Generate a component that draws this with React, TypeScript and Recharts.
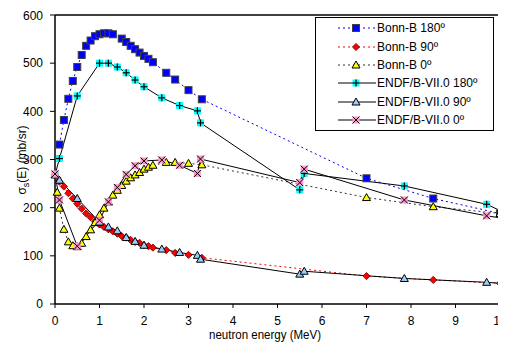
import { LineChart, Line, XAxis, YAxis, Legend, ReferenceLine, Label } from 'recharts';

const FONT = '"Liberation Sans Narrow", "Arial Narrow", "Liberation Sans", Arial, sans-serif';

// Bonn-B model
const bonn180E = [0.1, 0.2, 0.3, 0.4, 0.5, 0.6, 0.7, 0.8, 0.9, 1.0, 1.1, 1.2, 1.3, 1.5, 1.6, 1.7, 1.8, 1.9, 2.0, 2.1, 2.2, 2.5, 2.7, 3.0, 3.3, 7.0, 8.5, 10];
const bonn180V = [331, 382, 426, 463, 492, 517, 536, 547, 556, 560, 562, 562, 560, 551, 544, 536, 529, 522, 515, 509, 502, 480, 466, 444, 425, 261, 219, 188];

const bonnE = [0.05, 0.1, 0.2, 0.3, 0.4, 0.5, 0.6, 0.7, 0.8, 0.9, 1.0, 1.1, 1.2, 1.3, 1.4, 1.5, 1.6, 1.7, 1.8, 1.9, 2.0, 2.1, 2.2, 2.5, 2.7, 3.0, 3.3, 7.0, 8.5, 10];
const bonn90V = [262, 254, 244, 230, 219, 208, 198, 188, 180, 171, 165, 160, 155, 151, 146, 141, 138, 133, 129, 127, 122, 120, 117, 112, 106, 102, 96, 58, 50, 43];
const bonn0V = [232, 199, 155, 129, 121, 119, 126, 140, 154, 169, 185, 199, 212, 226, 236, 246, 255, 262, 268, 273, 280, 284, 288, 294, 294, 292, 289, 221, 202, 188];

// ENDF/B-VII.0 evaluation
const endfE = [0, 0.1, 0.5, 1.0, 1.2, 1.4, 1.6, 1.8, 2.0, 2.4, 2.8, 3.2, 3.27, 5.5, 5.6, 7.85, 9.7, 10];
const endf180V = [268, 302, 432, 500, 500, 492, 480, 465, 451, 428, 412, 401, 376, 237, 271, 245, 207, 194];
const endf90V = [268, 257, 219, 170, 160, 152, 138, 130, 122, 114, 107, 101, 93, 62, 68, 53, 45, 43];
const endf0V = [270, 216, 120, 174, 212, 242, 269, 287, 297, 299, 288, 271, 301, 252, 280, 216, 183, 179];

const xTicks = [0, 1, 2, 3, 4, 5, 6, 7, 8, 9, 10];
const yTicks = [0, 100, 200, 300, 400, 500, 600];

const toPoints = (es: number[], vs: number[]) => es.map((e, i) => ({ e, v: vs[i] }));

type Shape = 'square' | 'plus' | 'diamond' | 'triangle' | 'cross';

function Marker({ cx, cy, shape, fill }: { cx: number; cy: number; shape: Shape; fill: string }) {
  const h = 3.5;
  if (shape === 'square') {
    return <rect x={cx - h} y={cy - h} width={2 * h} height={2 * h} fill={fill} stroke="#404040" strokeWidth={1} />;
  }
  if (shape === 'plus') {
    return (
      <g>
        <rect x={cx - h} y={cy - h} width={2 * h} height={2 * h} fill={fill} />
        <line x1={cx - h} x2={cx + h} y1={cy} y2={cy} stroke="#000" strokeWidth={1.2} />
        <line x1={cx} x2={cx} y1={cy - h} y2={cy + h} stroke="#000" strokeWidth={1.2} />
      </g>
    );
  }
  if (shape === 'diamond') {
    return (
      <polygon
        points={`${cx},${cy - 3.6} ${cx + 3.6},${cy} ${cx},${cy + 3.6} ${cx - 3.6},${cy}`}
        fill={fill}
        stroke="#600"
        strokeWidth={0.8}
      />
    );
  }
  if (shape === 'triangle') {
    return (
      <polygon
        points={`${cx},${cy - 4} ${cx + 4},${cy + 3} ${cx - 4},${cy + 3}`}
        fill={fill}
        stroke="#000"
        strokeWidth={1}
      />
    );
  }
  return (
    <g>
      <rect x={cx - h} y={cy - h} width={2 * h} height={2 * h} fill={fill} />
      <line x1={cx - h} x2={cx + h} y1={cy - h} y2={cy + h} stroke="#000" strokeWidth={1} />
      <line x1={cx - h} x2={cx + h} y1={cy + h} y2={cy - h} stroke="#000" strokeWidth={1} />
    </g>
  );
}

const series = [
  { name: 'Bonn-B 180º', data: toPoints(bonn180E, bonn180V), stroke: '#0000ff', dash: '2 3', shape: 'square' as Shape, fill: '#0000ff' },
  { name: 'Bonn-B 90º', data: toPoints(bonnE, bonn90V), stroke: '#ff0000', dash: '2 3', shape: 'diamond' as Shape, fill: '#ff0000' },
  { name: 'Bonn-B 0º', data: toPoints(bonnE, bonn0V), stroke: '#333333', dash: '2 3', shape: 'triangle' as Shape, fill: '#ffff00' },
  { name: 'ENDF/B-VII.0 180º', data: toPoints(endfE, endf180V), stroke: '#000000', dash: undefined, shape: 'plus' as Shape, fill: '#00ffff' },
  { name: 'ENDF/B-VII.0 90º', data: toPoints(endfE, endf90V), stroke: '#000000', dash: undefined, shape: 'triangle' as Shape, fill: '#99ccff' },
  { name: 'ENDF/B-VII.0 0º', data: toPoints(endfE, endf0V), stroke: '#000000', dash: undefined, shape: 'cross' as Shape, fill: '#ff99cc' },
];

// ENDF curves run on to the frame without a marker at the end
const makeDot = (shape: Shape, fill: string, noMarkAt?: number) => (p: any) => {
  const { cx, cy, index, payload } = p;
  if (noMarkAt !== undefined && payload.e >= noMarkAt) return <g key={`d-${index}`} />;
  return <Marker key={`d-${index}`} cx={cx} cy={cy} shape={shape} fill={fill} />;
};

const renderLegend = () => (
  <div
    style={{
      border: '1.5px solid #000',
      background: '#fff',
      width: 177,
      padding: '1px 0',
      fontFamily: FONT,
      fontSize: 12,
      color: '#000',
    }}
  >
    {series.map((s) => (
      <div key={s.name} style={{ display: 'flex', alignItems: 'center', height: 18.4 }}>
        <svg width={61} height={14} style={{ display: 'block' }}>
          <line x1={22} x2={60} y1={7} y2={7} stroke={s.stroke} strokeDasharray={s.dash} strokeWidth={1} />
          <Marker cx={40} cy={7} shape={s.shape} fill={s.fill} />
        </svg>
        <span style={{ whiteSpace: 'nowrap' }}>{s.name}</span>
      </div>
    ))}
  </div>
);

const axisLine = { stroke: '#000', strokeWidth: 1.5 };

export default function App() {
  return (
    <LineChart width={498} height={336} margin={{ top: 7, right: 6, bottom: 10, left: 7 }}>
      <XAxis
        type="number"
        dataKey="e"
        domain={[0, 10]}
        ticks={xTicks}
        tickSize={4}
        tickMargin={8}
        height={30}
        stroke="#000"
        axisLine={axisLine}
        tick={{ fill: '#000', fontSize: 12, fontFamily: FONT }}
      >
        <Label
          content={() => (
            <text
              x={257}
              y={331}
              textAnchor="middle"
              fontFamily={FONT}
              fontSize={12}
              textLength={112}
              lengthAdjust="spacingAndGlyphs"
              fill="#000"
            >
              neutron energy (MeV)
            </text>
          )}
        />
      </XAxis>
      <YAxis
        type="number"
        dataKey="v"
        domain={[0, 600]}
        ticks={yTicks}
        tickSize={5}
        tickMargin={7}
        width={40}
        stroke="#000"
        axisLine={axisLine}
        tick={{ fill: '#000', fontSize: 12, fontFamily: FONT }}
      >
        <Label
          content={() => (
            <text transform="translate(18, 152) rotate(-90)" textAnchor="middle" fontFamily={FONT} fontSize={12} fill="#000">
              σ<tspan dy={3} fontSize={9}>s</tspan>
              <tspan dy={-3}>(E) (mb/sr)</tspan>
            </text>
          )}
        />
      </YAxis>
      <ReferenceLine y={600} stroke="#000" strokeWidth={1.5} />
      <ReferenceLine x={10} stroke="#000" strokeWidth={1.5} />
      <Legend
        layout="vertical"
        align="center"
        verticalAlign="middle"
        content={renderLegend}
        wrapperStyle={{ left: 307, top: 9, width: 179, height: 112 }}
      />
      {series.map((s, i) => (
        <Line
          key={s.name}
          name={s.name}
          data={s.data}
          dataKey="v"
          type="linear"
          stroke={s.stroke}
          strokeDasharray={s.dash}
          strokeWidth={1}
          dot={makeDot(s.shape, s.fill, i >= 3 ? 10 : undefined)}
          activeDot={false}
          isAnimationActive={false}
        />
      ))}
    </LineChart>
  );
}
